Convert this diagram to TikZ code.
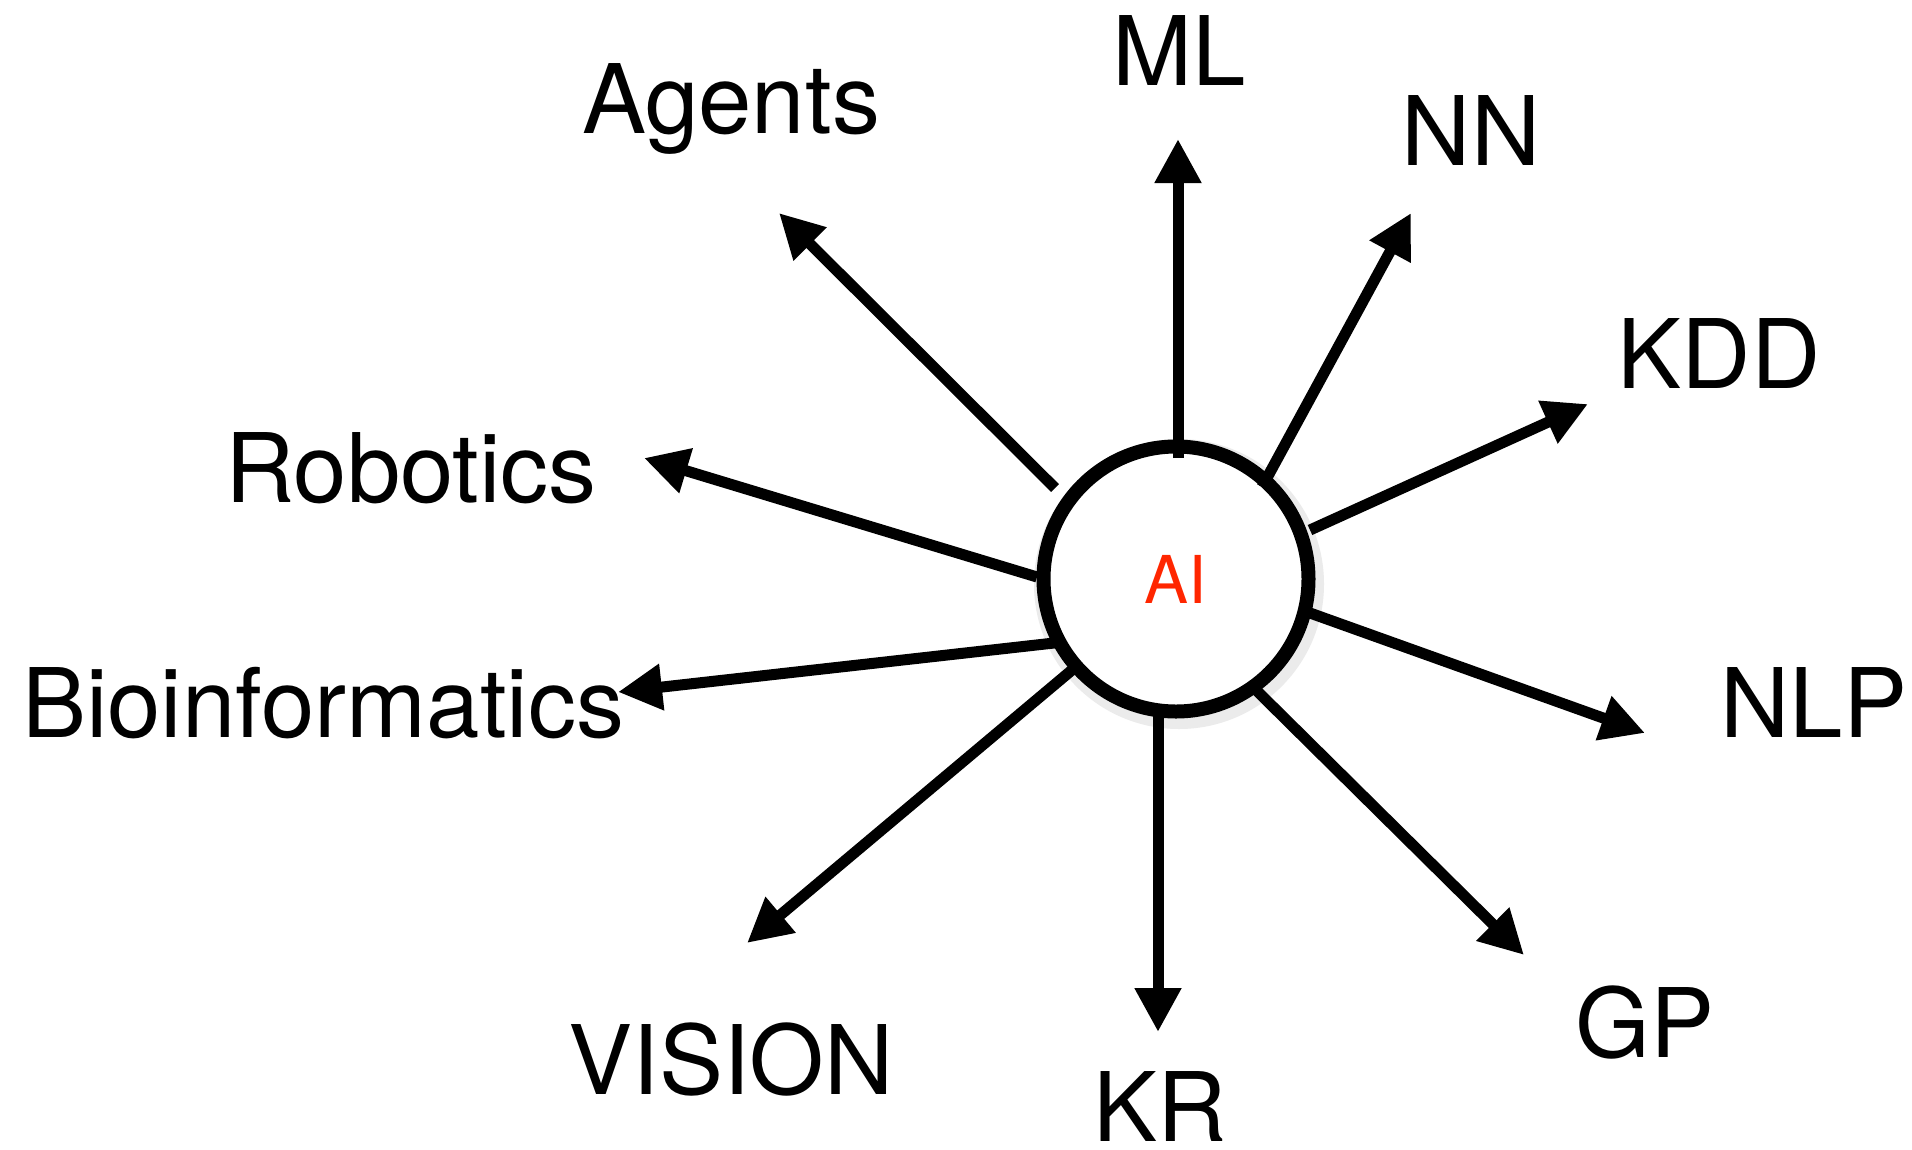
\documentclass[tikz,border=0pt]{standalone}
\usepackage{fontspec}
\setmainfont{TeX Gyre Heros}
\usetikzlibrary{arrows.meta}
\definecolor{aired}{RGB}{255,38,0}
\begin{document}
\begin{tikzpicture}[x=1pt,y=-1pt,
  lbl/.style={anchor=base, inner sep=0pt, font=\fontsize{96}{110}\selectfont},
  ray/.style={line width=11pt, -{Triangle[length=44pt 0 0,width=44pt 0 0]}},
  hub/.style={circle, draw, line width=14pt, minimum size=265pt, inner sep=0pt, fill=white,
    text=aired, font=\fontsize{66}{72}\selectfont}]
\useasboundingbox (0,0) rectangle (1912,1149);
\fill[white] (0,0) rectangle (1912,1149);
% soft shadow
\draw[black!8, line width=22pt] (1179,584) circle (134pt);
\node[hub] (AI) at (1176,579) {AI};
% labels
\node[lbl] (ML) at (1179,85) {ML};
\node[lbl] (Agents) at (731,133) {Agents};
\node[lbl] (NN) at (1471,165) {NN};
\node[lbl] (KDD) at (1719,388) {KDD};
\node[lbl] (Robotics) at (411,502) {Robotics};
\node[lbl] (Bio) at (323,737) {Bioinformatics};
\node[lbl] (NLP) at (1814,737) {NLP};
\node[lbl] (VISION) at (731,1094) {VISION};
\node[lbl] (KR) at (1160,1141) {KR};
\node[lbl] (GP) at (1645,1057) {GP};
% ray start points (on the hub ring)
\coordinate (sML) at (1178,458);
\coordinate (sNN) at (1262,487);
\coordinate (sKDD) at (1310,530);
\coordinate (sNLP) at (1310,613);
\coordinate (sGP) at (1253,687);
\coordinate (sKR) at (1158,713);
\coordinate (sVI) at (1072,670);
\coordinate (sBio) at (1063,642);
\coordinate (sRob) at (1037,577);
\coordinate (sAg) at (1055,488);
% ray tips
\coordinate (tML) at (1178,139);
\coordinate (tNN) at (1411,213);
\coordinate (tKDD) at (1588,404);
\coordinate (tNLP) at (1645,733);
\coordinate (tGP) at (1524,955);
\coordinate (tKR) at (1158,1032);
\coordinate (tVI) at (747,943);
\coordinate (tBio) at (618,692);
\coordinate (tRob) at (644,458);
\coordinate (tAg) at (779,213);
\draw[ray] (sML) -- (tML);
\draw[ray] (sNN) -- (tNN);
\draw[ray] (sKDD) -- (tKDD);
\draw[ray] (sNLP) -- (tNLP);
\draw[ray] (sGP) -- (tGP);
\draw[ray] (sKR) -- (tKR);
\draw[ray] (sVI) -- (tVI);
\draw[ray] (sBio) -- (tBio);
\draw[ray] (sRob) -- (tRob);
\draw[ray] (sAg) -- (tAg);
\end{tikzpicture}
\end{document}
